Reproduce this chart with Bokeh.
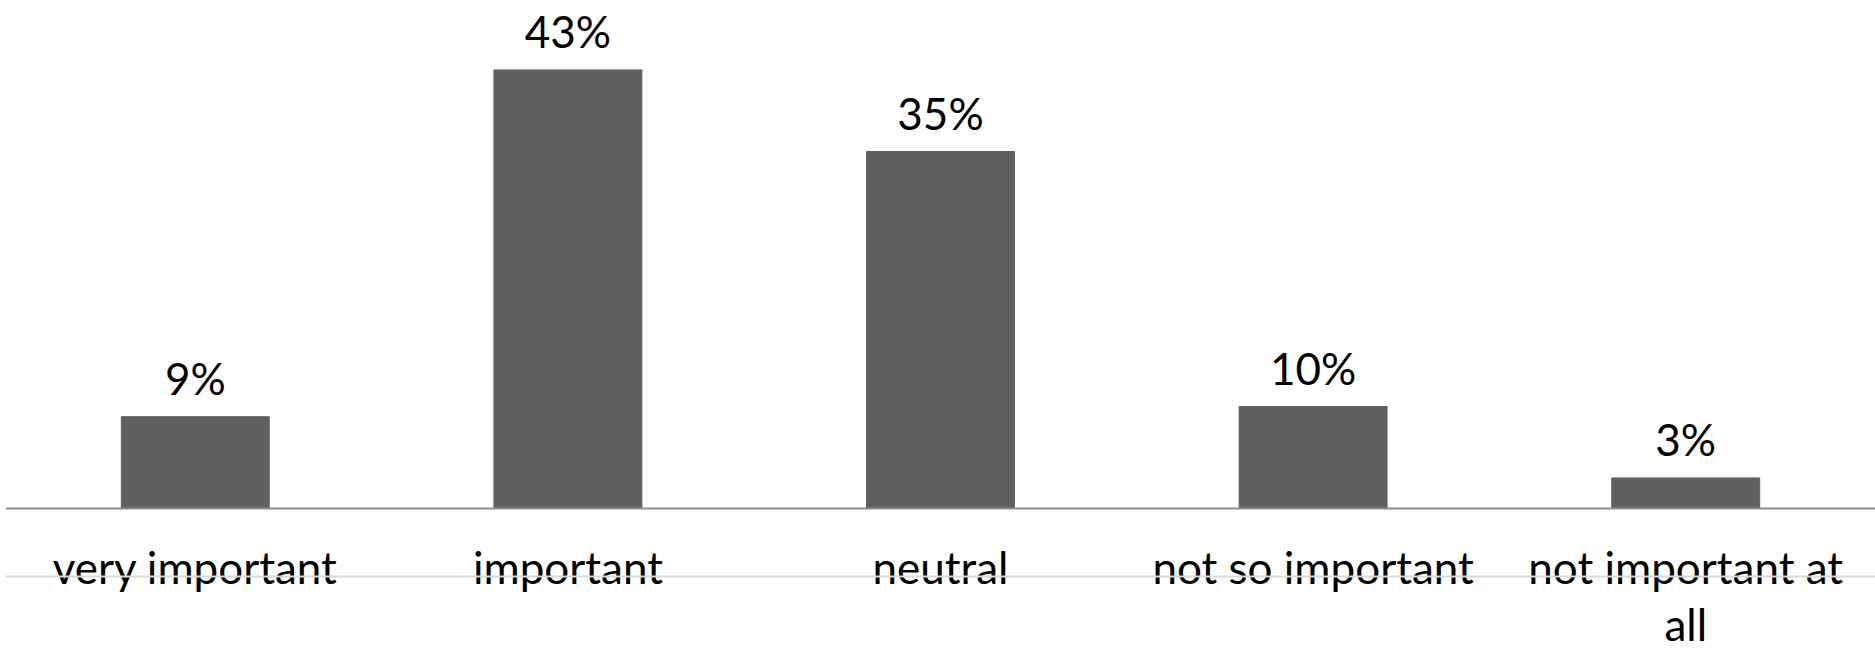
from bokeh.plotting import figure
from bokeh.models import FactorRange, Range1d, Span, ColumnDataSource
from bokeh.core.properties import value
from bokeh.embed import file_html
from bokeh.resources import INLINE

# Survey answers and their shares (percent)
categories = ["very important", "important", "neutral", "not so important", "not important at all"]
shares = [9, 43, 35, 10, 3]
share_labels = ["9%", "43%", "35%", "10%", "3%"]
# how each category label wraps under the axis
label_lines = [["very important"], ["important"], ["neutral"], ["not so important"], ["not important at", "all"]]

W, H = 1875, 649
PX_PER_UNIT = 10.2          # vertical scale: pixels per percentage point
AXIS_FROM_TOP = 508         # pixel row of the zero line
FONT = "Lato"
FONT_SIZE = "44px"

p = figure(
    width=W, height=H,
    x_range=FactorRange(*categories, range_padding=0.0094, range_padding_units="absolute"),
    y_range=Range1d(-(H - AXIS_FROM_TOP) / PX_PER_UNIT, AXIS_FROM_TOP / PX_PER_UNIT),
    output_backend="svg", toolbar_location=None,
    min_border_left=5, min_border_right=0, min_border_top=0, min_border_bottom=0,
)
p.axis.visible = False
p.grid.visible = False
p.outline_line_color = None
p.background_fill_color = "white"
p.border_fill_color = "white"

src = ColumnDataSource(dict(cat=categories, share=shares, label=share_labels))

# light rule running behind the category labels
p.add_layout(Span(location=-68 / PX_PER_UNIT, dimension="width",
                  line_color="#d9d9d9", line_width=2))

p.vbar(x="cat", top="share", bottom=0, width=0.397, source=src,
       fill_color="#606060", line_color="#606060")

# zero line
p.add_layout(Span(location=0, dimension="width", line_color="#8c8c8c", line_width=2))

# value labels above the bars
p.text(x="cat", y="share", text="label", source=src,
       text_align="center", text_baseline="alphabetic", y_offset=-39,
       text_font=value(FONT), text_font_size=FONT_SIZE, text_color="#000000")

# category labels below the axis (one row per wrapped line)
n_rows = max(len(l) for l in label_lines)
for row in range(n_rows):
    row_text = [l[row] if row < len(l) else "" for l in label_lines]
    p.text(x=categories, y=[0] * len(categories), text=row_text,
           text_align="center", text_baseline="alphabetic", y_offset=58 + 57 * row,
           text_font=value(FONT), text_font_size=FONT_SIZE, text_color="#000000")

open("out.html", "w").write(file_html(p, INLINE))
